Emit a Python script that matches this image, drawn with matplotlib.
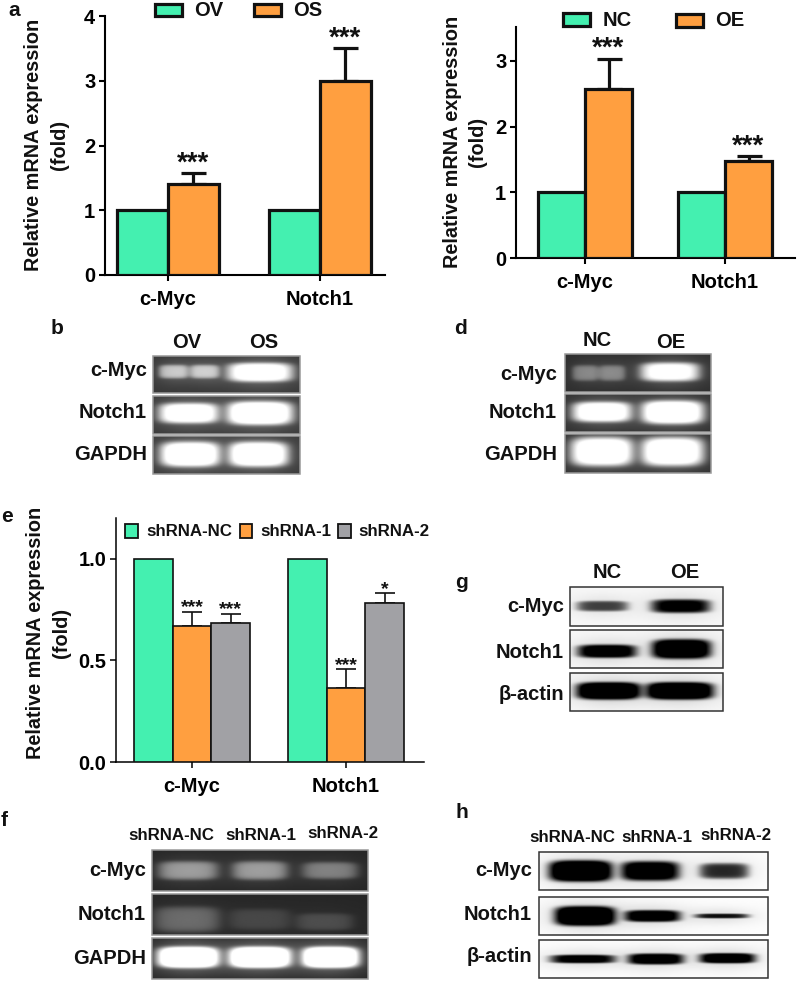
import numpy as np
from matplotlib import pyplot as plt
from matplotlib.patches import Rectangle

plt.rcParams['font.family'] = ['Liberation Sans', 'DejaVu Sans']
plt.rcParams['font.weight'] = 'bold'

W, H = 797, 981
GREEN = '#44f0b0'
ORANGE = '#ff9f40'
GREY = '#a1a1a5'

genes = ['c-Myc', 'Notch1']

# panel a
a_ov = [1.0, 1.0]
a_os = [1.4, 3.0]
a_os_err = [0.17, 0.5]
a_stars = ['***', '***']

# panel c
c_nc = [1.0, 1.0]
c_oe = [2.57, 1.48]
c_oe_err = [0.46, 0.07]
c_stars = ['***', '***']

# panel e
e_nc = [1.0, 1.0]
e_sh1 = [0.67, 0.365]
e_sh2 = [0.685, 0.78]
e_sh1_err = [0.07, 0.09]
e_sh2_err = [0.045, 0.05]
e_sh1_stars = ['***', '***']
e_sh2_stars = ['***', '*']

# gel / blot bands: (centre x, half width, centre y, half height, strength) as fractions of the strip
b_cmyc = [(.14, .10, .42, .18, .72), (.35, .10, .42, .18, .72), (.73, .22, .44, .25, 1.25)]
b_notch = [(.24, .20, .45, .26, 1.25), (.73, .22, .45, .30, 1.40)]
b_gapdh = [(.25, .20, .48, .32, 1.35), (.72, .20, .48, .32, 1.35)]

d_cmyc = [(.14, .09, .50, .20, .42), (.32, .09, .50, .20, .42), (.72, .20, .47, .24, 1.15)]
d_notch = [(.25, .20, .47, .26, 1.25), (.74, .21, .48, .30, 1.35)]
d_gapdh = [(.25, .21, .45, .36, 1.30), (.74, .21, .45, .36, 1.30)]

f_cmyc = [(.165, .135, .50, .22, .55), (.50, .125, .50, .22, .55), (.826, .125, .50, .20, .42)]
f_notch = [(.16, .15, .62, .30, .32), (.50, .14, .62, .25, .15), (.80, .13, .68, .20, .18)]
f_gapdh = [(.165, .14, .47, .25, 1.6), (.50, .14, .47, .25, 1.6), (.83, .13, .47, .25, 1.6)]

g_cmyc = [(.21, .165, .49, .13, .75), (.725, .19, .49, .17, 1.1)]
g_notch = [(.24, .19, .56, .17, 1.2), (.73, .19, .50, .25, 1.4)]
g_actin = [(.25, .205, .47, .22, 1.5), (.72, .215, .47, .22, 1.5)]

h_cmyc = [(.18, .135, .50, .27, 1.5), (.486, .125, .50, .25, 1.25), (.81, .105, .50, .20, .85)]
h_notch = [(.20, .13, .50, .25, 1.5), (.496, .12, .50, .15, 1.2), (.80, .115, .50, .06, .95)]
h_actin = [(.19, .14, .50, .11, 1.1), (.51, .12, .50, .14, 1.2), (.825, .12, .48, .13, 1.25)]


def px_axes(fig, left, right, bottom, top):
    return fig.add_axes([left / W, 1 - bottom / H, (right - left) / W, (bottom - top) / H])


def style_axes(ax, yticks, ylabels, ymax, axis_lw):
    for s in ['top', 'right']:
        ax.spines[s].set_visible(False)
    ax.spines['left'].set_linewidth(axis_lw)
    ax.spines['bottom'].set_linewidth(axis_lw)
    ax.set_ylim(0, ymax)
    ax.set_yticks(yticks)
    ax.set_yticklabels(ylabels, fontsize=14.5)
    ax.set_xticks([0, 1])
    ax.set_xticklabels(genes, fontsize=14.5)
    ax.tick_params(axis='y', length=4.5, width=axis_lw, pad=2.5)
    ax.tick_params(axis='x', length=4.5, width=axis_lw, pad=6)


def star_bars(ax, x, vals, errs, stars, width, color, lw, cap, size, off):
    ax.bar(x, vals, width, color=color, edgecolor='#111111', linewidth=lw, zorder=3)
    ax.errorbar(x, vals, yerr=[[0] * len(errs), errs], fmt='none', ecolor='#111111',
                elinewidth=lw, capsize=cap, capthick=lw, zorder=2)
    for xi, v, e, st in zip(x, vals, errs, stars):
        ax.annotate(st, (xi, v + e), xytext=(0, off), textcoords='offset pixels',
                    ha='center', va='center', fontsize=size, color='#111111', zorder=4)


def strip(bands, bg, w, h, halo_part):
    # soft rounded blob for every band, with a weaker halo round it
    y, x = np.mgrid[0:1:h * 1j, 0:1:w * 1j]
    val = np.zeros_like(x)
    for cx, a, cy, b, k in bands:
        core = (np.abs(x - cx) / (a * 1.03)) ** 4 + (np.abs(y - cy) / (b * 1.05)) ** 4
        halo = (np.abs(x - cx) / (a + .035)) ** 2 + (np.abs(y - cy) / (b + .16)) ** 2
        val += k * ((1 - halo_part) * np.exp(-core ** 1.5) + halo_part * np.exp(-halo))
    return np.clip(val, 0, 1) * (1 - bg) + bg


def gel_panel(ov, x0, x1, rows, bands, bg, dark_bands, edge):
    for (y0, y1), bs in zip(rows, bands):
        if dark_bands:
            img = 1 - strip(bs, bg, 200, 60, .12)
        else:
            img = strip(bs, bg, 200, 60, .25)
        ov.imshow(img, cmap='gray', vmin=0, vmax=1, extent=(x0, x1, y1, y0), aspect='auto',
                  interpolation='bilinear', zorder=1)
        ov.add_patch(Rectangle((x0, y0), x1 - x0, y1 - y0, fill=False, edgecolor=edge, linewidth=1.1, zorder=2))


fig = plt.figure(figsize=(W / 100, H / 100), dpi=100)

# a
ax = px_axes(fig, 105, 385, 275, 16)
ax.set_xlim(-0.414, 1.428)
style_axes(ax, [0, 1, 2, 3, 4], ['0', '1', '2', '3', '4'], 4, 1.5)
xs = np.arange(2)
star_bars(ax, xs - .168, a_ov, [0, 0], ['', ''], .336, GREEN, 2.3, 0, 20, 14)
star_bars(ax, xs + .168, a_os, a_os_err, a_stars, .336, ORANGE, 2.3, 9, 20, 10)

# c
ax = px_axes(fig, 516, 795, 258, 27)
ax.set_xlim((516 - 585) / 140, (795 - 585) / 140)
style_axes(ax, [0, 1, 2, 3], ['0', '1', '2', '3'], 231 / 65.7, 1.5)
star_bars(ax, xs - .168, c_nc, [0, 0], ['', ''], .336, GREEN, 2.3, 0, 20, 14)
star_bars(ax, xs + .168, c_oe, c_oe_err, c_stars, .336, ORANGE, 2.3, 9, 20, 10)

# e
ax = px_axes(fig, 116, 424, 762, 518)
ax.set_xlim((116 - 192) / 154, (424 - 192) / 154)
style_axes(ax, [0, .5, 1], ['0.0', '0.5', '1.0'], 1.2, 1.1)
star_bars(ax, xs - .25, e_nc, [0, 0], ['', ''], .25, GREEN, 1.2, 0, 14, 8)
star_bars(ax, xs, e_sh1, e_sh1_err, e_sh1_stars, .25, ORANGE, 1.2, 7, 14, 4)
star_bars(ax, xs + .25, e_sh2, e_sh2_err, e_sh2_stars, .25, GREY, 1.2, 7, 14, 4)

# everything else goes on a pixel overlay
ov = fig.add_axes([0, 0, 1, 1], zorder=10)
ov.patch.set_alpha(0)
ov.axis('off')


def txt(x, y, s, size=14.5, ha='center', rot=0):
    ov.text(x, y, s, fontsize=size, ha=ha, va='center', rotation=rot, color='#111111', zorder=5)


def box(x0, x1, y0, y1, color, lw):
    ov.add_patch(Rectangle((x0, y0), x1 - x0, y1 - y0, facecolor=color, edgecolor='#111111', linewidth=lw, zorder=3))


# legends
box(155, 182, 4, 16, GREEN, 2.3)
txt(209, 10, 'OV')
box(254, 281, 4, 16, ORANGE, 2.3)
txt(308, 10, 'OS')
box(563, 590, 13, 26, GREEN, 2.3)
txt(617, 20, 'NC')
box(676, 703, 14, 27, ORANGE, 2.3)
txt(730, 21, 'OE')
box(125, 138, 524, 538, GREEN, 1.3)
txt(146, 532, 'shRNA-NC', 12.2, 'left')
box(240, 252, 524, 538, ORANGE, 1.3)
txt(260, 532, 'shRNA-1', 12.2, 'left')
box(338, 351, 524, 538, GREY, 1.3)
txt(358, 532, 'shRNA-2', 12.2, 'left')

# y titles
for x1, x2, y in [(34, 60, 145), (453, 478, 142), (36, 62, 633)]:
    txt(x1, y, 'Relative mRNA expression', 14.3, rot=90)
    txt(x2, y, '(fold)', 14.3, rot=90)

# panel letters
for x, y, s in [(14, 11, 'a'), (57, 329, 'b'), (461, 329, 'd'), (7, 517, 'e'),
                (4, 820, 'f'), (462, 582, 'g'), (462, 813, 'h')]:
    txt(x, y, s, 15)

# gels
gel_panel(ov, 153, 300, [(356, 393), (396, 434), (436, 474)], [b_cmyc, b_notch, b_gapdh], .22, False, '#999999')
gel_panel(ov, 565, 711, [(354, 392), (394, 432), (434, 473)], [d_cmyc, d_notch, d_gapdh], .18, False, '#999999')
gel_panel(ov, 152, 368, [(850, 891), (894, 935), (938, 979)], [f_cmyc, f_notch, f_gapdh], .15, False, '#999999')
gel_panel(ov, 570, 723, [(587, 626), (630, 668), (673, 711)], [g_cmyc, g_notch, g_actin], .03, True, '#333333')
gel_panel(ov, 539, 768, [(852, 890), (897, 935), (940, 978)], [h_cmyc, h_notch, h_actin], .01, True, '#333333')

# gel labels
for xr, ys, names in [(147, (371, 412, 455), ('c-Myc', 'Notch1', 'GAPDH')),
                      (557, (374, 413, 455), ('c-Myc', 'Notch1', 'GAPDH')),
                      (146, (871, 915, 958), ('c-Myc', 'Notch1', 'GAPDH')),
                      (564, (607, 652, 694), ('c-Myc', 'Notch1', 'β-actin')),
                      (532, (871, 915, 957), ('c-Myc', 'Notch1', 'β-actin'))]:
    for y, n in zip(ys, names):
        txt(xr, y, n, 14.5, 'right')

for x, y, s in [(187, 342, 'OV'), (264, 342, 'OS'), (597, 340, 'NC'), (671, 342, 'OE'),
                (607, 573, 'NC'), (685, 572, 'OE')]:
    txt(x, y, s, 14.5)
for x, y, s in [(171, 836, 'shRNA-NC'), (261, 835, 'shRNA-1'), (343, 834, 'shRNA-2'),
                (572, 838, 'shRNA-NC'), (657, 837, 'shRNA-1'), (736, 836, 'shRNA-2')]:
    txt(x, y, s, 12.2)

ov.set_xlim(0, W)
ov.set_ylim(H, 0)

fig.savefig('out.png', dpi=100)
